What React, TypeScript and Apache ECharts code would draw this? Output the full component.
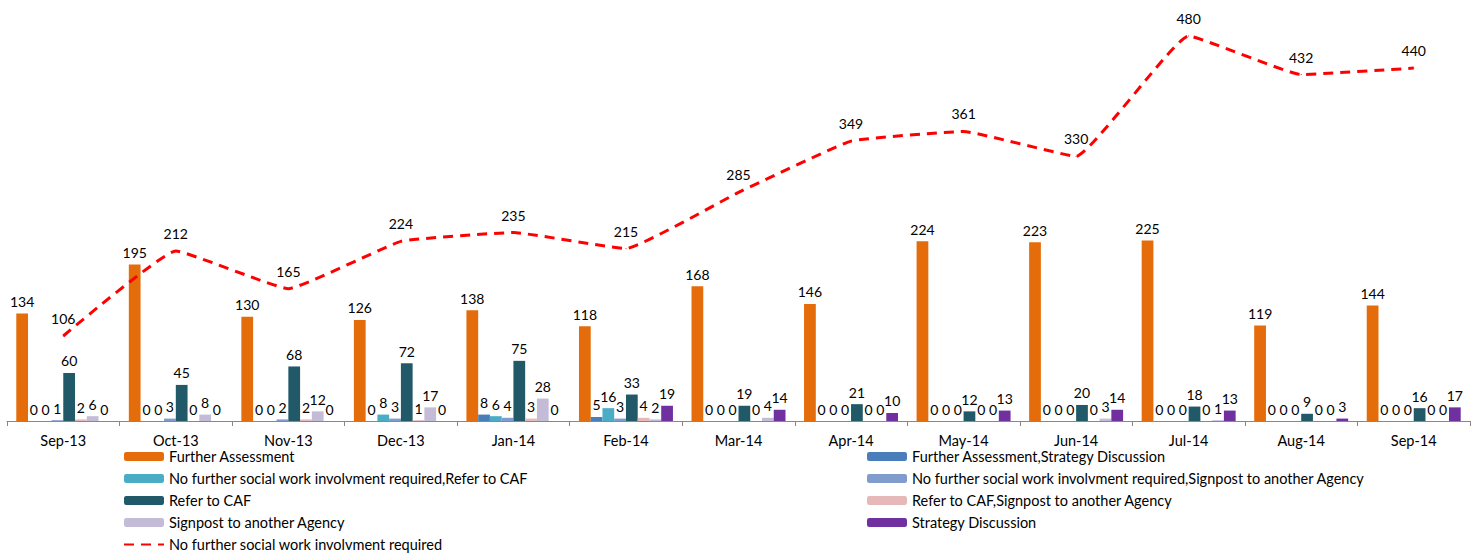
import React, { useEffect, useRef } from "react";
import * as echarts from "echarts";

const categories = ["Sep-13", "Oct-13", "Nov-13", "Dec-13", "Jan-14", "Feb-14", "Mar-14", "Apr-14", "May-14", "Jun-14", "Jul-14", "Aug-14", "Sep-14"];

const furtherAssessment = [134, 195, 130, 126, 138, 118, 168, 146, 224, 223, 225, 119, 144];
const faStrategy = [0, 0, 0, 0, 8, 5, 0, 0, 0, 0, 0, 0, 0];
const nfswReferCaf = [0, 0, 0, 8, 6, 16, 0, 0, 0, 0, 0, 0, 0];
const nfswSignpost = [1, 3, 2, 3, 4, 3, 0, 0, 0, 0, 0, 0, 0];
const referCaf = [60, 45, 68, 72, 75, 33, 19, 21, 12, 20, 18, 9, 16];
const referCafSignpost = [2, 0, 2, 1, 3, 4, 0, 0, 0, 0, 0, 0, 0];
const signpost = [6, 8, 12, 17, 28, 2, 4, 0, 0, 3, 1, 0, 0];
const strategyDiscussion = [0, 0, 0, 0, 0, 19, 14, 10, 13, 14, 13, 3, 17];
const noFurther = [106, 212, 165, 224, 235, 215, 285, 349, 361, 330, 480, 432, 440];

const FONT = "Lato, 'Liberation Sans', sans-serif";

const barDefs = [
  { name: "Further Assessment", data: furtherAssessment, color: "#E46C0A" },
  { name: "Further Assessment,Strategy Discussion", data: faStrategy, color: "#4A7EBB" },
  { name: "No further social work involvment required,Refer to CAF", data: nfswReferCaf, color: "#4BACC6" },
  { name: "No further social work involvment required,Signpost to another Agency", data: nfswSignpost, color: "#7F9CCC" },
  { name: "Refer to CAF", data: referCaf, color: "#215968" },
  { name: "Refer to CAF,Signpost to another Agency", data: referCafSignpost, color: "#E6B9B8" },
  { name: "Signpost to another Agency", data: signpost, color: "#C4BBD6" },
  { name: "Strategy Discussion", data: strategyDiscussion, color: "#7030A0" },
];
const lineName = "No further social work involvment required";

export default function App() {
  const ref = useRef<HTMLDivElement>(null);
  useEffect(() => {
    if (!ref.current) return;
    const chart = echarts.init(ref.current, null, { renderer: "svg" });
    const labelStyle = { color: "#000", fontSize: 14, fontFamily: FONT };
    const series: any[] = barDefs.map((b) => ({
      type: "bar",
      name: b.name,
      data: b.data,
      barGap: "0%",
      barCategoryGap: "16.5%",
      itemStyle: { color: b.color },
      label: { show: true, position: "top", distance: 5, ...labelStyle },
    }));
    series.push({
      type: "line",
      name: lineName,
      data: noFurther,
      symbol: "circle",
      symbolSize: 1,
      smooth: 0.1,
      lineStyle: { color: "#FF0000", width: 3, type: [10, 7] },
      itemStyle: { color: "#FF0000" },
      label: { show: true, position: "top", distance: 10, ...labelStyle },
      labelLayout: { hideOverlap: false },
      z: 5,
    });
    const legendText = { color: "#000", fontSize: 14.5, fontFamily: FONT, lineHeight: 15 };
    const legendCommon = {
      orient: "vertical",
      top: 449,
      padding: 0,
      itemWidth: 40,
      itemHeight: 9,
      itemGap: 7,
      textStyle: legendText,
    };
    chart.setOption({
      animation: false,
      textStyle: { fontFamily: FONT },
      grid: { left: 7, right: 9, top: 20, bottom: 133, containLabel: false },
      legend: [
        {
          ...legendCommon,
          left: 123,
          data: [
            barDefs[0].name,
            barDefs[2].name,
            barDefs[4].name,
            barDefs[6].name,
            { name: lineName, itemStyle: { color: "rgba(0,0,0,0)", borderWidth: 0, opacity: 0 } },
          ],
        },
        {
          ...legendCommon,
          left: 867,
          data: [barDefs[1].name, barDefs[3].name, barDefs[5].name, barDefs[7].name],
        },
      ],
      xAxis: {
        type: "category",
        data: categories,
        axisLine: { lineStyle: { color: "#888" } },
        axisTick: { show: true, length: 5, lineStyle: { color: "#888" } },
        axisLabel: { color: "#000", fontSize: 14.5, fontFamily: FONT, margin: 12 },
      },
      yAxis: {
        type: "value",
        min: 0,
        max: 500,
        show: false,
        splitLine: { show: false },
      },
      series,
    });
    return () => chart.dispose();
  }, []);
  return (
    <div
      ref={ref}
      style={{ position: "fixed", left: 0, top: 0, width: 1479, height: 554, background: "#fff" }}
    />
  );
}
